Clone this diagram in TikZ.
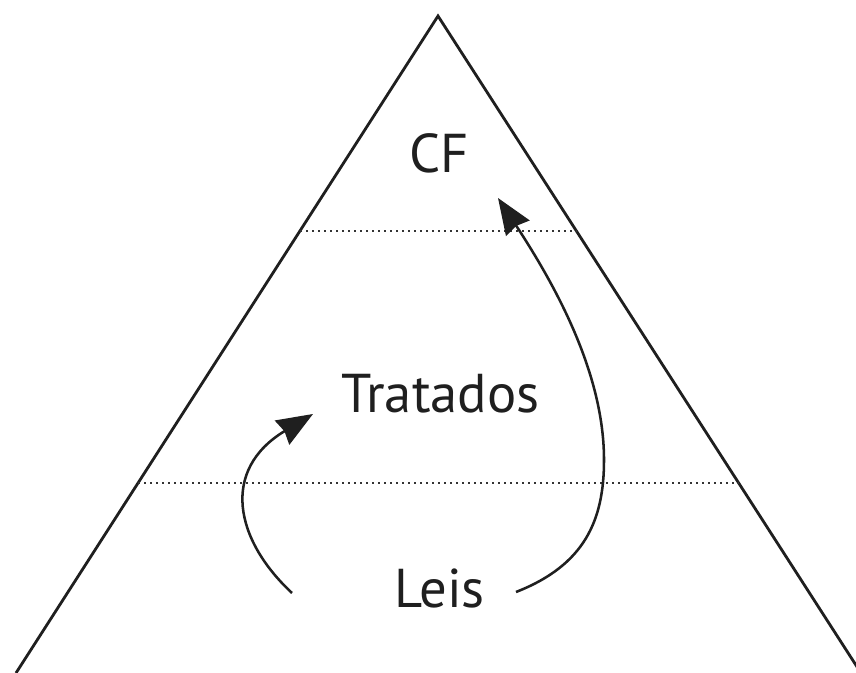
\documentclass[tikz,border=0pt]{standalone}
\usepackage{fontspec}
\setmainfont{PT Sans}
\usetikzlibrary{arrows.meta,calc}
\tikzset{
  side/.style={line width=2.1pt, line join=miter, draw=black!88},
  level/.style={line width=1.7pt, dash pattern=on 1.5pt off 3pt, draw=black!80},
  flow/.style={line width=1.9pt, draw=black!88, -{Stealth[length=27pt,width=21pt,inset=2pt]}},
  lbl/.style={anchor=base, inner sep=0pt, font=\fontsize{41}{48}\selectfont, text=black!88}
}
\begin{document}
\begin{tikzpicture}[x=0.75pt,y=-0.75pt]
\useasboundingbox (0,0) rectangle (856,673);
\clip (0,0) rectangle (856,673);
\coordinate (apex) at (438,16);
\coordinate (bl) at (16,673);
\coordinate (br) at (861,673);
\draw[side] (bl) -- (apex) -- (br);
% levels
\path (apex) -- (bl) coordinate[pos=0.3269] (l1) coordinate[pos=0.7104] (l2);
\path (apex) -- (br) coordinate[pos=0.3269] (r1) coordinate[pos=0.7104] (r2);
\draw[level] (l1) -- (r1);
\draw[level] (l2) -- (r2);
% labels
\node[lbl] (cf) at (439.5,173) {CF};
\node[lbl] (trat) at (440.5,412) {Tratados};
\node[lbl] (leis) at (439.5,607) {Leis};
% arrows
\coordinate (s1) at (292,593);
\coordinate (t1) at (313,414);
\coordinate (s2) at (516,592);
\coordinate (m2) at (604,460);
\coordinate (t2) at (498,198);
\draw[flow] (s1) .. controls (235,540) and (220,470) .. (t1);
\draw[flow] (s2) .. controls (585,565) and (604,520) .. (m2)
               .. controls (604,380) and (563,297) .. (t2);
\end{tikzpicture}
\end{document}
